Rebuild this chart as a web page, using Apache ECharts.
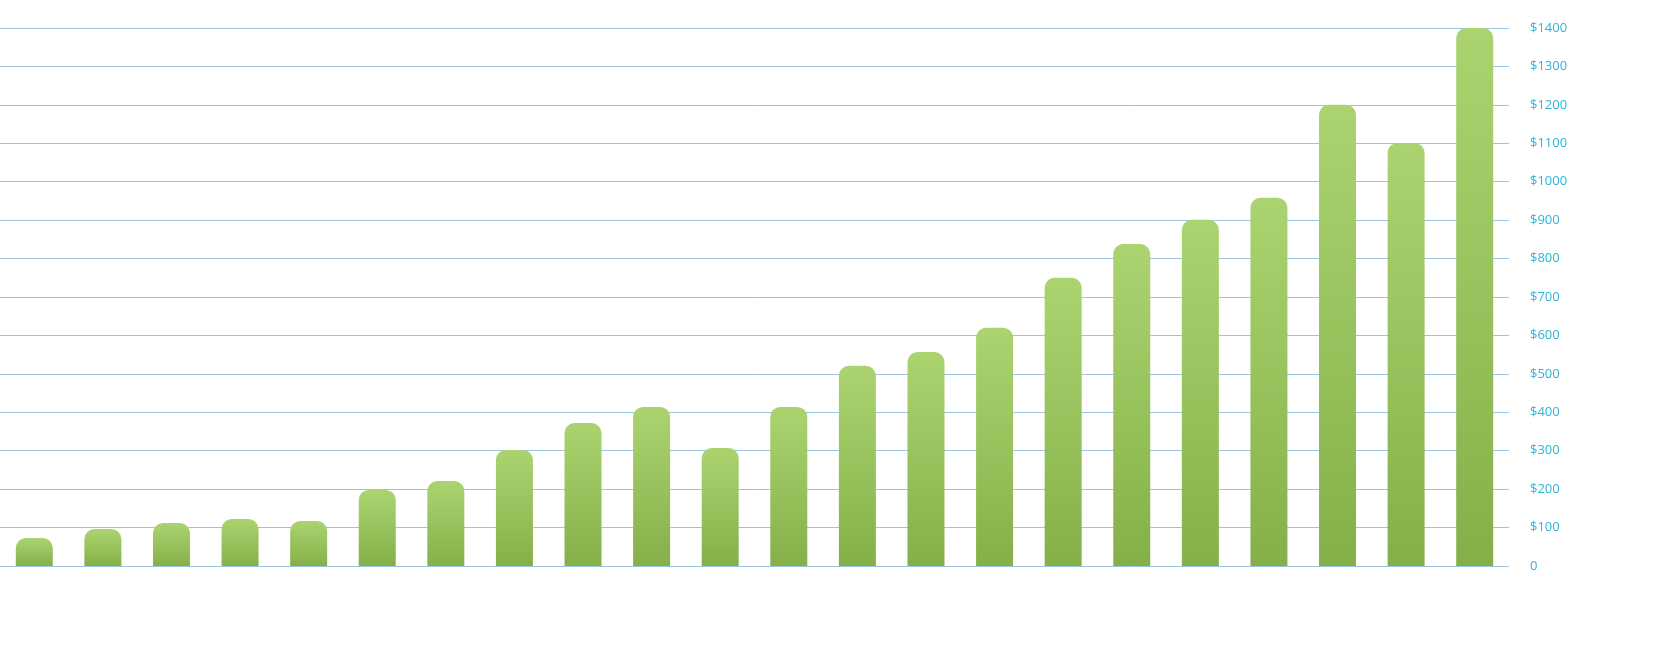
<!DOCTYPE html>
<html>
<head>
<meta charset="utf-8">
<script src="https://cdn.jsdelivr.net/npm/echarts@6/dist/echarts.min.js"></script>
<style>
  html, body { margin: 0; padding: 0; background: #fff; }
  #chart { width: 1671px; height: 646px; }
</style>
</head>
<body>
<div id="chart"></div>
<script>
var categories = ['1','2','3','4','5','6','7','8','9','10','11','12','13','14','15','16','17','18','19','20','21','22'];
var values = [73, 96, 112, 122, 117, 198, 221, 302, 372, 414, 307, 414, 521, 557, 620, 750, 838, 901, 958, 1200, 1101, 1400];

var chart = echarts.init(document.getElementById('chart'));
chart.setOption({
    animation: false,
    grid: { left: -12, right: 162, top: 28, bottom: 80 },
    xAxis: {
        type: 'category',
        data: categories,
        axisLine: { show: false },
        axisTick: { show: false },
        axisLabel: { show: false }
    },
    yAxis: {
        type: 'value',
        position: 'right',
        min: 0,
        max: 1400,
        interval: 100,
        axisLine: { show: false },
        axisTick: { show: false },
        splitLine: { lineStyle: { color: '#9cc3e2', width: 1 } },
        axisLabel: {
            color: '#29b6d8',
            fontFamily: 'Open Sans',
            fontSize: 13,
            margin: 21,
            formatter: function(v) { return v === 0 ? '0' : '$' + v; }
        }
    },
    series: [{
        type: 'bar',
        data: values,
        barWidth: 37,
        itemStyle: {
            borderRadius: [10, 10, 0, 0],
            color: new echarts.graphic.LinearGradient(0, 0, 0, 1, [
                { offset: 0, color: '#abd470' },
                { offset: 1, color: '#85b049' }
            ])
        }
    }]
});
</script>
</body>
</html>
